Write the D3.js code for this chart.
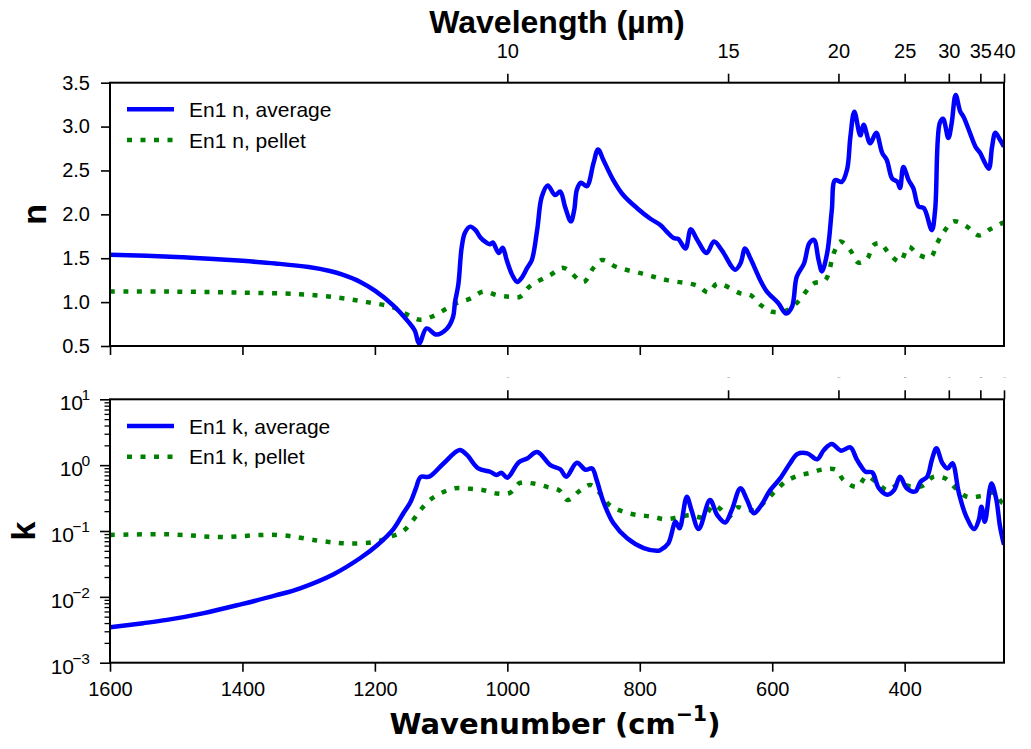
<!DOCTYPE html>
<html><head><meta charset="utf-8">
<script src="https://cdn.jsdelivr.net/npm/d3@7"></script>
<style>
body{margin:0;background:#fff;}
svg{display:block;font-family:"Liberation Sans",Arial,sans-serif;}
</style></head>
<body><svg id="c" width="1031" height="749"></svg>
<script>
// ---------- DATA ----------
const nAvgWn = [1600,1500,1450,1400,1350,1300,1268,1250,1222,1200,1172,1150,1140,1133,1122,1107,1091,1082,1079,1074,1069,1064,1056,1048,1041,1032,1026,1022,1013,1007,1001,992,985,979,970,963,955,948,939,928,920,913,904,899,895,889,880,870,863,855,840,825,804,784,769,759,749,742,731,723,714,699,688,676,656,648,641,633,618,608,591,579,570,563,552,544,537,530,525,517,510,505,495,487,482,476,467,462,452,443,434,427,419,411,407,402,394,387,379,371,359,354,347,342,334,329,323,316,311,301,293,286,281,273,268,263,256,250];
const nAvgVal = [1.54,1.515,1.495,1.47,1.44,1.40,1.355,1.315,1.23,1.13,0.96,0.78,0.68,0.53,0.70,0.63,0.70,0.83,1.00,1.20,1.62,1.79,1.86,1.82,1.74,1.68,1.66,1.68,1.56,1.62,1.48,1.30,1.23,1.27,1.39,1.48,1.82,2.20,2.33,2.22,2.26,2.09,1.92,2.05,2.28,2.36,2.32,2.58,2.74,2.62,2.39,2.22,2.07,1.95,1.88,1.80,1.73,1.72,1.61,1.83,1.72,1.56,1.69,1.59,1.37,1.44,1.61,1.50,1.25,1.12,0.99,0.87,0.95,1.29,1.44,1.67,1.71,1.48,1.35,1.56,2.05,2.39,2.37,2.51,2.88,3.17,2.90,3.02,2.81,2.93,2.70,2.62,2.41,2.37,2.30,2.54,2.39,2.30,2.09,2.07,1.82,2.05,3.04,3.09,2.87,3.04,3.36,3.17,3.11,2.92,2.77,2.70,2.62,2.52,2.77,2.93,2.85,2.77];

const nPelWn = [1600,1514,1414,1313,1255,1212,1172,1152,1132,1112,1091,1076,1056,1036,1016,996,981,966,935,915,885,870,857,835,794,759,714,696,683,648,633,618,600,580,563,538,520,507,497,482,470,457,447,437,422,407,394,379,361,351,341,326,306,288,271,253,250];
const nPelVal = [1.12,1.12,1.11,1.09,1.05,1.00,0.94,0.86,0.80,0.84,0.93,0.99,1.04,1.12,1.08,1.06,1.06,1.18,1.31,1.39,1.23,1.39,1.48,1.40,1.32,1.25,1.19,1.11,1.21,1.10,1.08,0.97,0.89,0.90,0.99,1.21,1.25,1.56,1.69,1.59,1.45,1.49,1.65,1.67,1.54,1.46,1.63,1.54,1.51,1.67,1.80,1.92,1.86,1.76,1.83,1.90,1.91];

const kAvgWn = [1600,1550,1514,1460,1401,1350,1313,1263,1222,1197,1172,1157,1146,1138,1131,1118,1096,1072,1061,1044,1026,1016,1009,1000,983,970,955,935,920,911,895,882,872,865,855,840,819,794,772,769,757,746,740,729,722,711,694,683,671,661,648,638,628,618,603,588,573,562,547,532,522,510,496,482,473,467,459,449,439,426,416,407,397,384,376,366,359,352,343,335,328,318,307,295,288,284,279,269,262,256,250];
const kAvgVal = [0.00345,0.00398,0.00447,0.00562,0.00776,0.0105,0.0135,0.0219,0.0389,0.0603,0.107,0.186,0.279,0.447,0.661,0.668,1.07,1.70,1.43,0.895,0.794,0.708,0.767,0.646,1.10,1.26,1.58,1.00,0.865,0.668,1.09,0.851,0.891,0.589,0.279,0.132,0.0776,0.0550,0.0501,0.0513,0.0646,0.138,0.110,0.331,0.209,0.107,0.295,0.174,0.135,0.209,0.447,0.295,0.186,0.234,0.417,0.631,1.07,1.48,1.51,1.23,1.70,2.09,1.66,1.86,1.26,1.00,0.794,0.776,0.447,0.355,0.417,0.668,0.447,0.398,0.562,0.668,1.20,1.80,1.07,0.891,1.07,0.372,0.166,0.107,0.148,0.234,0.138,0.525,0.316,0.117,0.0617];

const kPelWn = [1600,1514,1434,1346,1283,1240,1197,1177,1157,1142,1131,1117,1101,1079,1056,1036,1016,996,981,960,940,922,909,892,875,860,845,824,802,782,762,741,724,704,689,679,666,653,641,626,611,596,580,562,542,522,504,492,472,457,442,426,409,391,374,356,339,323,306,285,266,253,250];
const kPelVal = [0.0871,0.0891,0.0813,0.0871,0.0708,0.0646,0.0692,0.0813,0.100,0.148,0.209,0.295,0.372,0.447,0.437,0.417,0.372,0.380,0.537,0.525,0.468,0.417,0.295,0.398,0.501,0.372,0.245,0.195,0.174,0.166,0.151,0.162,0.174,0.162,0.245,0.219,0.162,0.229,0.214,0.209,0.279,0.398,0.562,0.684,0.767,0.865,0.851,0.589,0.468,0.684,0.537,0.417,0.513,0.479,0.479,0.668,0.631,0.447,0.331,0.339,0.380,0.269,0.263];

const wnTicks = [1600,1400,1200,1000,800,600,400];
const nTicks = [0.5,1.0,1.5,2.0,2.5,3.0,3.5];
const kTicks = [1e-3,1e-2,1e-1,1e0,1e1];
const kTickExp = ["−3","−2","−1","0","1"];
const wlTicks = [10,15,20,25,30,35,40];
const legendN = ["En1 n, average","En1 n, pellet"];
const legendK = ["En1 k, average","En1 k, pellet"];

// ---------- LAYOUT ----------
const L = 110, R = 1004;
const topT = 82.7, topB = 346, botT = 399.3, botB = 662.7;
const BLUE = "#0000ff", GREEN = "#008000";
const DASH = "5,8.5";
const svg = d3.select("#c");
svg.append("rect").attr("width",1031).attr("height",749).attr("fill","#fff");

const x = d3.scaleLinear().domain([1600,250]).range([L,R]);
const yN = d3.scaleLinear().domain([0.5,3.5]).range([topB,topT]);
const yK = d3.scaleLog().domain([1e-3,10]).range([botB,botT]);

const defs = svg.append("defs");
defs.append("clipPath").attr("id","cpT").append("rect").attr("x",L).attr("y",topT).attr("width",R-L).attr("height",topB-topT);
defs.append("clipPath").attr("id","cpB").append("rect").attr("x",L).attr("y",botT).attr("width",R-L).attr("height",botB-botT);

function zip(a,b){return a.map((w,i)=>[w,b[i]]);}
const curve = d3.curveCatmullRom.alpha(0.5);
const lineN = d3.line().x(d=>x(d[0])).y(d=>yN(d[1])).curve(curve);
const lineK = d3.line().x(d=>x(d[0])).y(d=>yK(d[1])).curve(curve);

function styleAxis(g){
  g.select(".domain").remove();
  g.selectAll(".tick line").attr("stroke","#000").attr("stroke-width",1.6);
  g.selectAll(".tick text").attr("fill","#000").attr("font-size",20).attr("font-family","'Liberation Sans',Arial,sans-serif");
}

// ---- Top panel ----
const gT = svg.append("g");
gT.append("g").attr("transform",`translate(${L},0)`)
  .call(d3.axisLeft(yN).tickValues(nTicks).tickSize(9).tickPadding(11).tickFormat(d3.format(".1f")))
  .call(styleAxis);
gT.append("g").attr("transform",`translate(0,${topB})`)
  .call(d3.axisBottom(x).tickValues(wnTicks).tickSize(9).tickFormat(""))
  .call(styleAxis);
gT.append("g").attr("transform",`translate(0,${topT})`)
  .call(d3.axisTop(x).tickValues(wlTicks.map(l=>1e4/l)).tickSize(9).tickPadding(16).tickFormat((d,i)=>wlTicks[i]))
  .call(styleAxis);

gT.append("g").attr("clip-path","url(#cpT)").selectAll("path")
  .data([{d:zip(nPelWn,nPelVal),c:GREEN,dash:DASH},{d:zip(nAvgWn,nAvgVal),c:BLUE,dash:null}])
  .join("path").attr("d",o=>lineN(o.d)).attr("fill","none").attr("stroke",o=>o.c)
  .attr("stroke-width",4.5).attr("stroke-dasharray",o=>o.dash).attr("stroke-linejoin","round");

gT.append("rect").attr("x",L).attr("y",topT).attr("width",R-L).attr("height",topB-topT)
  .attr("fill","none").attr("stroke","#000").attr("stroke-width",2);

// ---- Bottom panel ----
const gB = svg.append("g");
gB.append("g").attr("transform",`translate(${L},0)`)
  .call(d3.axisLeft(yK).tickValues(kTicks).tickSize(10).tickFormat(""))
  .call(styleAxis);
const minors = [];
for (let e=-3;e<1;e++) for (let m=2;m<10;m++) minors.push(m*Math.pow(10,e));
gB.append("g").attr("transform",`translate(${L},0)`)
  .call(d3.axisLeft(yK).tickValues(minors).tickSize(5.5).tickFormat(""))
  .call(g=>{g.select(".domain").remove();g.selectAll(".tick line").attr("stroke","#000").attr("stroke-width",1.3);});
const kl = gB.append("g").selectAll("text").data(kTicks).join("text")
  .attr("text-anchor","end").attr("fill","#000");
kl.each(function(d,i){
  const t = d3.select(this);
  const y = yK(d);
  const two = kTickExp[i].length>1;
  t.append("tspan").attr("x",two?L-36:L-27).attr("y",y+11).attr("font-size",21).text("10");
  t.append("tspan").attr("x",L-20).attr("y",y+1).attr("font-size",15.5).text(kTickExp[i]);
});
gB.append("g").attr("transform",`translate(0,${botB})`)
  .call(d3.axisBottom(x).tickValues(wnTicks).tickSize(9).tickPadding(10).tickFormat(d3.format("d")))
  .call(styleAxis);
gB.append("g").attr("transform",`translate(0,${botT})`)
  .call(d3.axisTop(x).tickValues(wlTicks.map(l=>1e4/l)).tickSize(9).tickPadding(12).tickFormat((d,i)=>wlTicks[i]))
  .call(styleAxis)
  .call(g=>g.selectAll(".tick text").attr("font-size",2.5).attr("fill","#666"));

gB.append("g").attr("clip-path","url(#cpB)").selectAll("path")
  .data([{d:zip(kPelWn,kPelVal),c:GREEN,dash:DASH},{d:zip(kAvgWn,kAvgVal),c:BLUE,dash:null}])
  .join("path").attr("d",o=>lineK(o.d)).attr("fill","none").attr("stroke",o=>o.c)
  .attr("stroke-width",4.5).attr("stroke-dasharray",o=>o.dash).attr("stroke-linejoin","round");

gB.append("rect").attr("x",L).attr("y",botT).attr("width",R-L).attr("height",botB-botT)
  .attr("fill","none").attr("stroke","#000").attr("stroke-width",2);

// ---- Legends ----
function legend(labels, y0){
  const g = svg.append("g");
  const items = [{c:BLUE,dash:null},{c:GREEN,dash:DASH}];
  items.forEach((it,i)=>{
    const y = y0 + i*30.7;
    g.append("line").attr("x1",127).attr("x2",174).attr("y1",y).attr("y2",y)
      .attr("stroke",it.c).attr("stroke-width",4.5).attr("stroke-dasharray",it.dash);
    g.append("text").attr("x",189).attr("y",y+7.5).attr("font-size",21).attr("fill","#000").text(labels[i]);
  });
}
legend(legendN, 109.3);
legend(legendK, 426);

// ---- Titles ----
svg.append("text").attr("x",(L+R)/2).attr("y",33).attr("text-anchor","middle")
  .attr("font-size",32).attr("font-weight","bold").text("Wavelength (µm)");
const xl = svg.append("text").attr("x",555).attr("y",734).attr("text-anchor","middle")
  .attr("font-weight","bold").attr("font-size",29).attr("font-family","'DejaVu Sans',sans-serif");
xl.append("tspan").text("Wavenumber (cm");
xl.append("tspan").attr("font-size",20.5).attr("dy",-13).text("−1");
xl.append("tspan").attr("dy",13).text(")");

svg.append("text").attr("transform",`translate(46,${(topT+topB)/2}) rotate(-90)`).attr("text-anchor","middle")
  .attr("font-size",34).attr("font-weight","bold").text("n");
svg.append("text").attr("transform",`translate(35,${(botT+botB)/2}) rotate(-90)`).attr("text-anchor","middle")
  .attr("font-size",34).attr("font-weight","bold").text("k");
</script></body></html>
